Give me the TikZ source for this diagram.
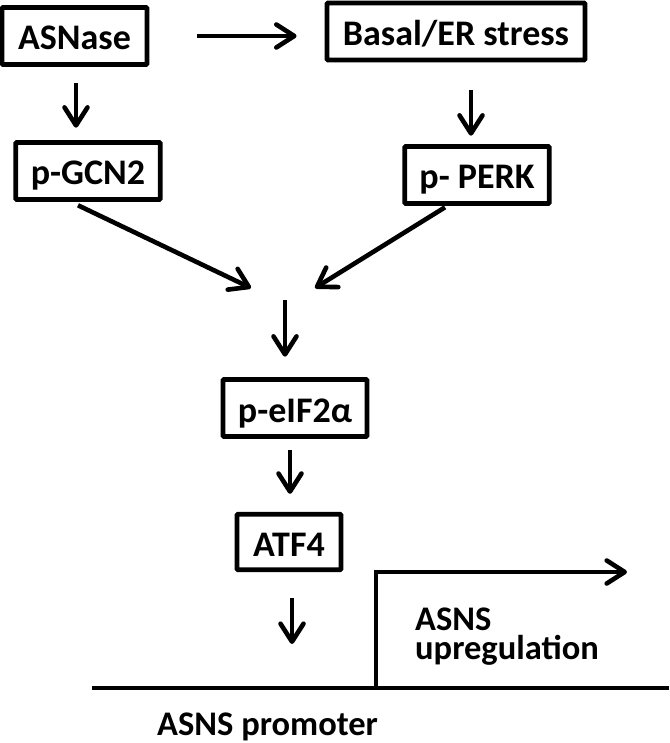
\documentclass[tikz,border=0pt]{standalone}
\usepackage{fontspec}
\setmainfont{Carlito}
\usetikzlibrary{arrows.meta,calc}
\begin{document}
\begin{tikzpicture}[x=1pt,y=-1pt,
  box/.style={draw, line width=4.8pt, rounded corners=1pt, minimum height=57pt, inner sep=0pt,
    font=\fontsize{36}{40}\selectfont\bfseries, text height=32pt, text depth=4pt},
  arr/.style={line width=4.6pt, -{Straight Barb[length=18pt,width=23pt,round]}},
  lbl/.style={font=\fontsize{34.5}{29}\selectfont\bfseries, inner sep=0pt}]
\useasboundingbox (0,0) rectangle (669,743);
% boxes
\node[box, minimum width=145pt] (asnase) at (74.5,36) {ASNase};
\node[box, minimum width=258pt] (basal) at (456,31.5) {Basal/ER stress};
\node[box, minimum width=144.5pt] (gcn2) at (88,171) {p-GCN2};
\node[box, minimum width=144.5pt] (perk) at (477,175) {p- PERK};
\node[box, minimum width=144pt] (eif) at (295,408) {p-eIF2α};
\node[box, minimum width=104pt, minimum height=55.5pt] (atf4) at (289,542) {ATF4};
% free-end coordinates
\coordinate (mL) at (251,288);
\coordinate (mR) at (315,288);
\coordinate (m) at (285,300);
\coordinate (lineL) at (92,688);
\coordinate (lineR) at (669,688);
\coordinate (prom) at (292,688);
\coordinate (tss) at (376,688);
\coordinate (tsstop) at (376,572);
\coordinate (tssend) at (627,572);
% labels
\node[lbl, anchor=north west, align=left] (upreg) at (415,607.5) {ASNS\\upregulation};
\node[lbl, anchor=base west] (promoter) at (157,735) {ASNS promoter};
% connectors
\draw[arr] ([xshift=48pt]asnase.east) -- ([xshift=-28pt]asnase.east -| basal.west);
\draw[arr] ($(asnase.south)+(1.5,16.5)$) -- ($(gcn2.north)+(-12,-12.4)$);
\draw[arr] ($(basal.south)+(15,28)$) -- ($(perk.north)+(-6,-8.4)$);
\draw[arr] ($(gcn2.south)+(-10,3.4)$) -- (mL);
\draw[arr] ($(perk.south)+(-32,1.4)$) -- (mR);
\draw[arr] (m) -- ($(eif.north)+(-10,-20.4)$);
\draw[arr] ($(eif.south)+(-5,11.4)$) -- ($(atf4.north)+(1,-18)$);
\draw[arr] ($(atf4.south)+(3,26)$) -- ($(prom)+(0,-44)$);
\draw[line width=4.6pt] (lineL) -- (lineR);
\draw[arr] (tss) -- (tsstop) -- (tssend);
\end{tikzpicture}
\end{document}
